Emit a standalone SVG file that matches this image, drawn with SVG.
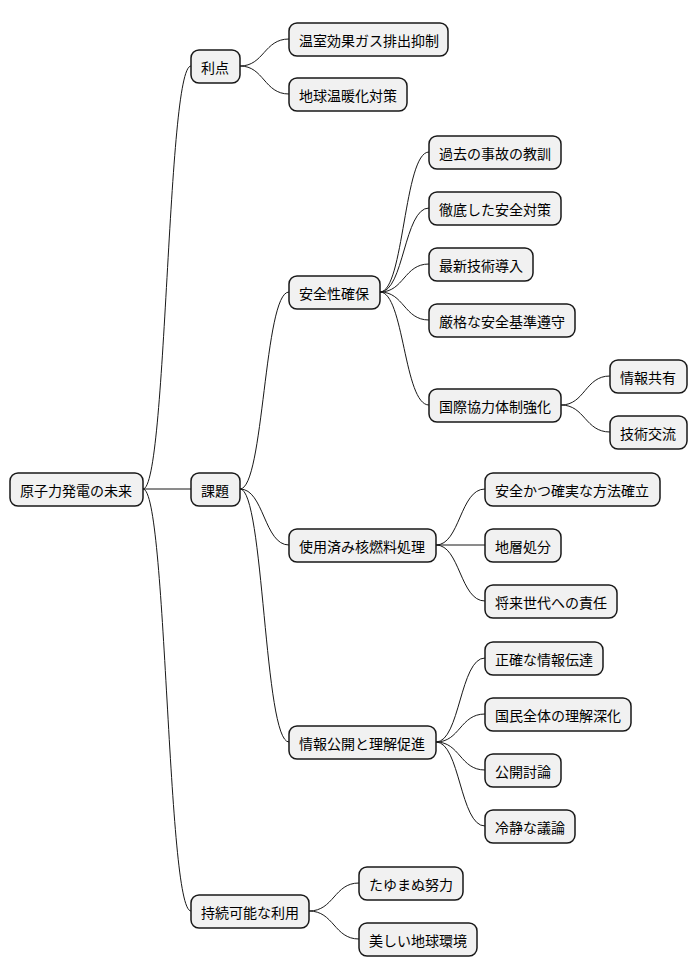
<svg xmlns="http://www.w3.org/2000/svg" width="698" height="978" viewBox="0 0 698 978">
<style>
.n rect{fill:#F1F1F1;stroke:#181818;stroke-width:1.5}
.n text{font-family:"Noto Sans CJK JP","Liberation Sans",sans-serif;font-size:14px;fill:#000;dominant-baseline:central}
#c path{fill:none;stroke:#181818;stroke-width:1}
</style>
<rect width="698" height="978" fill="#fff"/>
<g id="c">
<path d="M143,489 C167,489 167,66 191,66"/>
<path d="M143,489 L191,489"/>
<path d="M143,489 C167,489 167,911 191,911"/>
<path d="M240,66 C264,66 264,39 289,39"/>
<path d="M240,66 C264,66 264,94 289,94"/>
<path d="M240,489 C264,489 264,292 289,292"/>
<path d="M240,489 C264,489 264,545 289,545"/>
<path d="M240,489 C264,489 264,742 289,742"/>
<path d="M380,292 C404,292 404,152 429,152"/>
<path d="M380,292 C404,292 404,208 429,208"/>
<path d="M380,292 C404,292 404,264 429,264"/>
<path d="M380,292 C404,292 404,320 429,320"/>
<path d="M380,292 C404,292 404,405 429,405"/>
<path d="M561,405 C585,405 585,376 610,376"/>
<path d="M561,405 C585,405 585,432 610,432"/>
<path d="M436,545 C460,545 460,489 485,489"/>
<path d="M436,545 L485,545"/>
<path d="M436,545 C460,545 460,601 485,601"/>
<path d="M436,742 C460,742 460,658 485,658"/>
<path d="M436,742 C460,742 460,714 485,714"/>
<path d="M436,742 C460,742 460,770 485,770"/>
<path d="M436,742 C460,742 460,826 485,826"/>
<path d="M309,911 C334,911 334,883 359,883"/>
<path d="M309,911 C334,911 334,939 359,939"/>
</g>
<g id="n0" class="n"><rect x="10" y="473" width="133" height="33" rx="8"/><text x="20" y="489.5">原子力発電の未来</text></g>
<g id="n1" class="n"><rect x="191" y="50" width="49" height="33" rx="8"/><text x="201" y="66.5">利点</text></g>
<g id="n2" class="n"><rect x="289" y="23" width="159" height="33" rx="8"/><text x="299" y="39.5">温室効果ガス排出抑制</text></g>
<g id="n3" class="n"><rect x="289" y="78" width="118" height="33" rx="8"/><text x="299" y="94.5">地球温暖化対策</text></g>
<g id="n4" class="n"><rect x="191" y="473" width="49" height="33" rx="8"/><text x="201" y="489.5">課題</text></g>
<g id="n5" class="n"><rect x="289" y="276" width="91" height="33" rx="8"/><text x="299" y="292.5">安全性確保</text></g>
<g id="n6" class="n"><rect x="429" y="136" width="132" height="33" rx="8"/><text x="439" y="152.5">過去の事故の教訓</text></g>
<g id="n7" class="n"><rect x="429" y="192" width="132" height="33" rx="8"/><text x="439" y="208.5">徹底した安全対策</text></g>
<g id="n8" class="n"><rect x="429" y="248" width="104" height="33" rx="8"/><text x="439" y="264.5">最新技術導入</text></g>
<g id="n9" class="n"><rect x="429" y="304" width="146" height="33" rx="8"/><text x="439" y="320.5">厳格な安全基準遵守</text></g>
<g id="n10" class="n"><rect x="429" y="389" width="132" height="33" rx="8"/><text x="439" y="405.5">国際協力体制強化</text></g>
<g id="n11" class="n"><rect x="610" y="360" width="77" height="33" rx="8"/><text x="620" y="376.5">情報共有</text></g>
<g id="n12" class="n"><rect x="610" y="416" width="77" height="33" rx="8"/><text x="620" y="432.5">技術交流</text></g>
<g id="n13" class="n"><rect x="289" y="529" width="147" height="33" rx="8"/><text x="299" y="545.5">使用済み核燃料処理</text></g>
<g id="n14" class="n"><rect x="485" y="473" width="175" height="33" rx="8"/><text x="495" y="489.5">安全かつ確実な方法確立</text></g>
<g id="n15" class="n"><rect x="485" y="529" width="76" height="33" rx="8"/><text x="495" y="545.5">地層処分</text></g>
<g id="n16" class="n"><rect x="485" y="585" width="132" height="33" rx="8"/><text x="495" y="601.5">将来世代への責任</text></g>
<g id="n17" class="n"><rect x="289" y="726" width="147" height="33" rx="8"/><text x="299" y="742.5">情報公開と理解促進</text></g>
<g id="n18" class="n"><rect x="485" y="642" width="118" height="33" rx="8"/><text x="495" y="658.5">正確な情報伝達</text></g>
<g id="n19" class="n"><rect x="485" y="698" width="146" height="33" rx="8"/><text x="495" y="714.5">国民全体の理解深化</text></g>
<g id="n20" class="n"><rect x="485" y="754" width="76" height="33" rx="8"/><text x="495" y="770.5">公開討論</text></g>
<g id="n21" class="n"><rect x="485" y="810" width="90" height="33" rx="8"/><text x="495" y="826.5">冷静な議論</text></g>
<g id="n22" class="n"><rect x="191" y="895" width="118" height="33" rx="8"/><text x="201" y="911.5">持続可能な利用</text></g>
<g id="n23" class="n"><rect x="359" y="867" width="104" height="33" rx="8"/><text x="369" y="883.5">たゆまぬ努力</text></g>
<g id="n24" class="n"><rect x="359" y="923" width="118" height="33" rx="8"/><text x="369" y="939.5">美しい地球環境</text></g>
</svg>
